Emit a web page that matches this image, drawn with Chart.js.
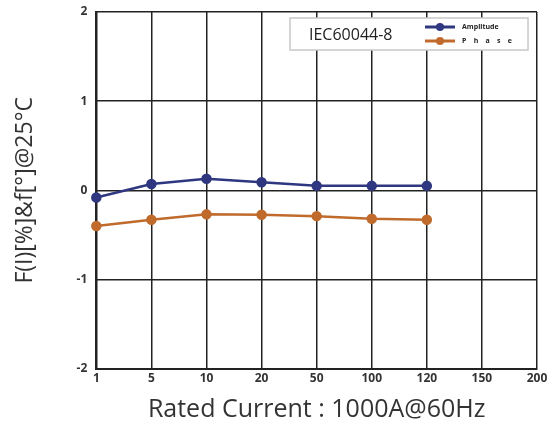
<!DOCTYPE html>
<html>
<head>
<meta charset="utf-8">
<script src="https://cdn.jsdelivr.net/npm/chart.js@4/dist/chart.umd.min.js"></script>
<style>
  body { margin: 0; background: #fff; }
  canvas { display: block; }
</style>
</head>
<body>
<canvas id="myChart" width="548" height="424"></canvas>
<script>
// data
const currents = ['1', '5', '10', '20', '50', '100', '120', '150', '200']
const amplitude = [-0.08, 0.07, 0.13, 0.09, 0.05, 0.05, 0.05, null, null]
const phase = [-0.40, -0.33, -0.27, -0.275, -0.29, -0.32, -0.33, null, null]
const yTicks = [-2, -1, 0, 1, 2]

const blue = '#2f3780'
const orange = '#c06a2c'

// boxed legend in the upper right, like the original
const boxLegend = {
  id: 'boxLegend',
  afterDraw(chart) {
    const c = chart.ctx
    c.save()
    c.fillStyle = '#fff'
    c.fillRect(290, 18, 238, 32)
    c.strokeStyle = '#c8c8c8'
    c.lineWidth = 1.5
    c.strokeRect(290, 18, 238, 32)
    c.fillStyle = '#222'
    c.font = '16px "Open Sans"'
    c.textBaseline = 'middle'
    c.fillText('IEC60044-8', 309, 35)
    const rows = [27, 41]
    chart.data.datasets.forEach((ds, i) => {
      const y = rows[i]
      c.strokeStyle = ds.borderColor
      c.lineWidth = 3
      c.beginPath()
      c.moveTo(425, y)
      c.lineTo(455, y)
      c.stroke()
      c.fillStyle = ds.borderColor
      c.beginPath()
      c.arc(440, y, 4, 0, Math.PI * 2)
      c.fill()
      c.fillStyle = '#222'
      c.font = 'bold 7px "Open Sans"'
      c.fillText(ds.legendText, 462, y)
    })
    c.restore()
  }
}

new Chart(document.getElementById('myChart'), {
  type: 'line',
  data: {
    labels: currents,
    datasets: [{
      label: 'Amplitude',
      legendText: 'Amplitude',
      data: amplitude,
      borderColor: blue,
      backgroundColor: blue,
      borderWidth: 2.5,
      pointRadius: 4,
      tension: 0
    }, {
      label: 'Phase',
      legendText: 'P    h    a    s    e',
      data: phase,
      borderColor: orange,
      backgroundColor: orange,
      borderWidth: 2.5,
      pointRadius: 4,
      tension: 0
    }]
  },
  options: {
    responsive: false,
    animation: false,
    layout: { autoPadding: false, padding: { top: 12, right: 11, left: 8, bottom: -5 } },
    plugins: {
      legend: { display: false },
      tooltip: { enabled: false }
    },
    scales: {
      x: {
        offset: false,
        // let the last label hang over the edge like the original
        afterFit: axis => { axis.paddingLeft = 0; axis.paddingRight = 0 },
        grid: { color: '#222', lineWidth: 1.5, drawTicks: false },
        border: { color: '#222', width: 2 },
        ticks: { color: '#333', font: { family: 'Open Sans', size: 12, weight: 'bold' }, padding: 3, maxRotation: 0, autoSkip: false },
        title: {
          display: true,
          text: 'Rated Current : 1000A@60Hz',
          color: '#333',
          font: { family: 'Open Sans', size: 25 },
          padding: { top: 6 }
        }
      },
      y: {
        min: -2,
        max: 2,
        afterBuildTicks: axis => { axis.ticks = yTicks.map(v => ({ value: v })) },
        afterFit: axis => { axis.paddingTop = 0; axis.paddingBottom = 0 },
        grid: { color: '#222', lineWidth: 1.5, drawTicks: false },
        border: { color: '#222', width: 2 },
        ticks: { color: '#333', font: { family: 'Open Sans', size: 12, weight: 'bold' }, padding: 9 },
        title: {
          display: true,
          text: 'F(I)[%]&f[°]@25°C',
          color: '#333',
          font: { family: 'Open Sans', size: 23 },
          padding: { bottom: 28 }
        }
      }
    }
  },
  plugins: [boxLegend]
});
</script>
</body>
</html>
